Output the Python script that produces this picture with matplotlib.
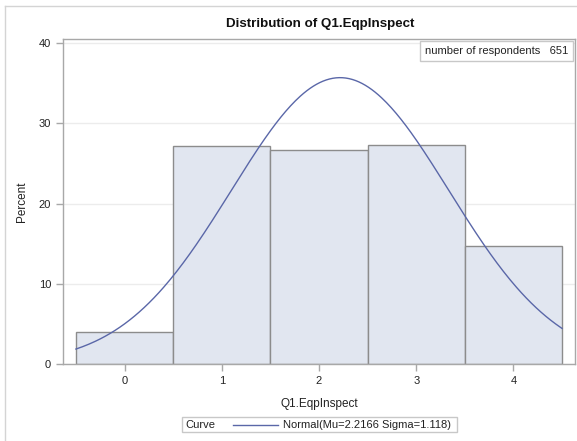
import numpy as np
import matplotlib
matplotlib.use("Agg")
import matplotlib.pyplot as plt
from matplotlib.lines import Line2D
from matplotlib.patches import Rectangle
from matplotlib.offsetbox import AnchoredText

plt.rcParams['font.family'] = ['Liberation Sans', 'DejaVu Sans']

# data
levels = [0, 1, 2, 3, 4]
percent = [3.99, 27.19, 26.73, 27.34, 14.75]
n_resp = 651
mu = 2.2166
sigma = 1.118

bar_fill = '#e1e6f0'
bar_edge = '#8c8c8c'
curve_col = '#5a67a8'
axis_col = '#a8a8a8'

fig = plt.figure(figsize=(5.77, 4.41), dpi=100)
W, H = 577.0, 441.0
ax = fig.add_axes([63 / W, 1 - 364 / H, 512 / W, 325 / H])

ax.bar(levels, percent, width=1.0, color=bar_fill, edgecolor=bar_edge, linewidth=1.0, zorder=2)

# fitted normal curve, scaled to percent per unit bin
xs = np.linspace(-0.5, 4.5, 300)
ys = 100.0 / (sigma * np.sqrt(2 * np.pi)) * np.exp(-0.5 * ((xs - mu) / sigma) ** 2)
ax.plot(xs, ys, color=curve_col, linewidth=1.0, zorder=3)

ax.set_xlim(-0.633, 4.633)
ax.set_ylim(0, 40.5)
ax.set_xticks(levels)
ax.set_yticks([0, 10, 20, 30, 40])
ax.grid(axis='y', color='#ececec', linewidth=1.0, zorder=0)
ax.set_axisbelow(True)
for s in ax.spines.values():
    s.set_color(axis_col)
    s.set_linewidth(1.0)
ax.tick_params(colors=axis_col, labelcolor='#222222', labelsize=8, length=5, width=1)

ax.set_xlabel('Q1.EqpInspect', fontsize=8.5, color='#222222')
ax.xaxis.set_label_coords(0.5, -0.105)
ax.set_ylabel('Percent', fontsize=8.5, color='#222222')
ax.yaxis.set_label_coords(-0.068, 0.5)

at = AnchoredText('number of respondents   %d' % n_resp, loc='upper right',
                  prop=dict(size=8, color='#222222'), frameon=True, pad=0.45, borderpad=0.15)
at.patch.set_edgecolor('#c8c8c8')
at.patch.set_linewidth(1.0)
ax.add_artist(at)

fig.text(320 / W, 1 - 24 / H, 'Distribution of Q1.EqpInspect', ha='center', va='center',
         fontsize=9.6, fontweight='bold', color='#111111')

# outer frame
fig.add_artist(Line2D([5 / W, 5 / W], [0, 1 - 6 / H], color='#d4d4d4', lw=1.0))
fig.add_artist(Line2D([5 / W, 1], [1 - 6 / H, 1 - 6 / H], color='#d4d4d4', lw=1.0))

# legend below plot
fig.add_artist(Rectangle((182 / W, 1 - 432 / H), 275 / W, 15 / H, transform=fig.transFigure,
                         facecolor='white', edgecolor='#c8c8c8', lw=1.0))
fig.text(185 / W, 1 - 424.5 / H, 'Curve', ha='left', va='center', fontsize=8, color='#222222')
fig.add_artist(Line2D([233 / W, 278 / W], [1 - 424.5 / H, 1 - 424.5 / H], color=curve_col, lw=1.0))
fig.text(283 / W, 1 - 424.5 / H, 'Normal(Mu=%.4f Sigma=%.3f)' % (mu, sigma), ha='left', va='center',
         fontsize=8, color='#222222')

fig.savefig('out.png', dpi=100)
